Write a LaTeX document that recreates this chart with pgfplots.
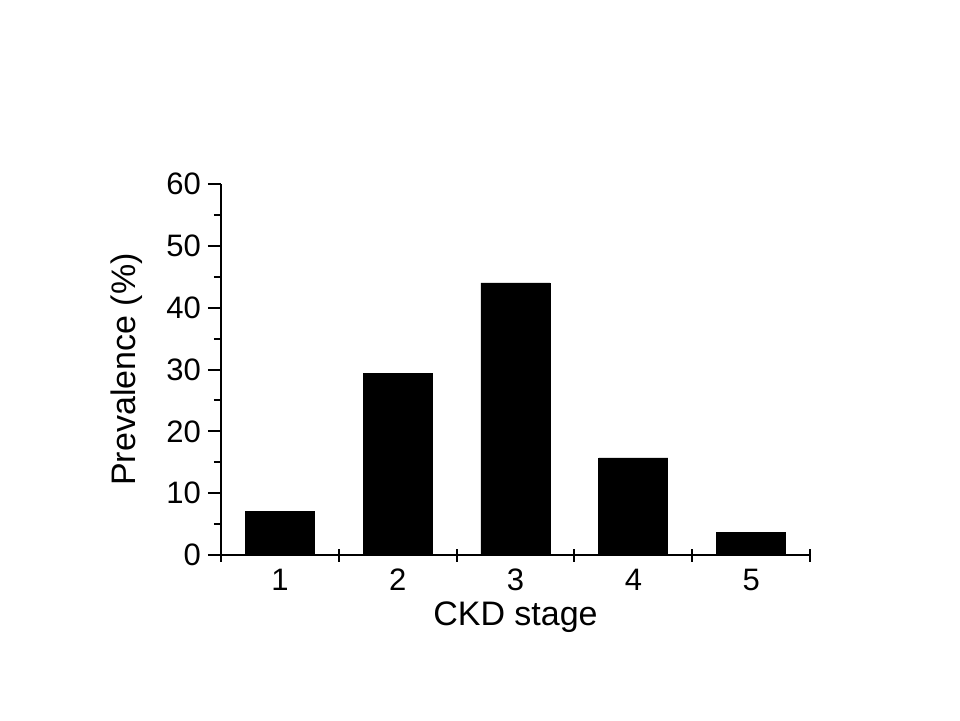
\documentclass[border=0pt]{standalone}
\usepackage{fontspec}
\setmainfont{Liberation Sans}
\usepackage{pgfplots}
\pgfplotsset{compat=1.18}
\begin{document}
\begin{tikzpicture}
\begin{axis}[
  at={(0,0)}, anchor=south west,
  scale only axis, width=294.5pt, height=185.5pt,
  xmin=0.5, xmax=5.5, ymin=0, ymax=60,
  axis x line*=bottom, axis y line*=left,
  axis line style={line width=1pt},
  every tick/.style={black, line width=1pt},
  xtick={0.5,1.5,2.5,3.5,4.5,5.5},
  xticklabels={1,2,3,4,5,{}},
  x tick label style={xshift=29.5pt, anchor=north, text height=11.2pt, text depth=0pt},
  xtick align=center,
  ytick={0,10,20,30,40,50,60},
  minor y tick num=1,
  ytick align=outside,
  major tick length=6.5pt,
  minor tick length=3.5pt,
  tick label style={font=\fontsize{15.5}{18}\selectfont},
  /pgf/number format/assume math mode=true,
  xlabel={CKD stage},
  ylabel={Prevalence (\%)},
  every axis x label/.style={at={(axis description cs:0.5,-0.167)}, anchor=center, font=\fontsize{17}{20}\selectfont},
  every axis y label/.style={at={(axis description cs:-0.160,0.5)}, anchor=center, rotate=90, font=\fontsize{17}{20}\selectfont},
]
\addplot[ybar, bar width=34.5pt, bar shift=0pt, fill=black, draw=black] coordinates {
  (1,7.1) (2,29.4) (3,44.0) (4,15.7) (5,3.6)
};
\end{axis}
\pgfresetboundingbox
\useasboundingbox (-110.5pt,-82.5pt) rectangle (369.5pt,277.5pt);
\end{tikzpicture}
\end{document}
